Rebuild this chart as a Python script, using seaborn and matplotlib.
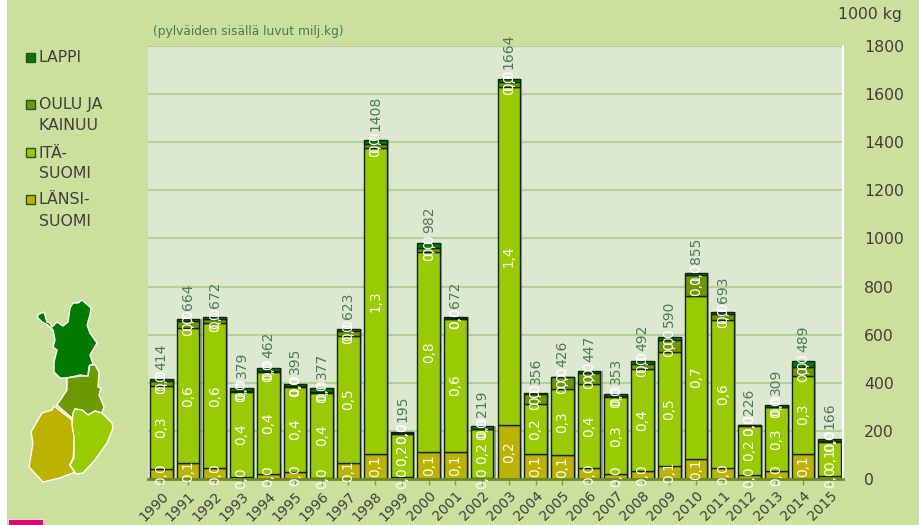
import matplotlib
matplotlib.use('Agg')
import matplotlib.pyplot as plt
import matplotlib.patheffects as pe
from matplotlib.patches import Polygon, Rectangle
import numpy as np
import pandas as pd
import seaborn as sns

years = list(range(1990, 2016))
lansi = [42, 65, 44, 10, 20, 30, 5, 65, 104, 10, 113, 113, 5, 223, 104, 98, 44, 20, 35, 55, 83, 44, 18, 35, 105, 12]
ita = [345, 561, 603, 352, 423, 352, 353, 530, 1271, 178, 830, 553, 201, 1407, 206, 277, 352, 320, 423, 473, 677, 615, 204, 265, 325, 143]
oulu = [19, 30, 19, 3, 8, 6, 3, 22, 17, 2, 19, 2, 3, 22, 42, 47, 45, 3, 22, 48, 89, 28, 2, 1, 37, 2]
lappi = [8, 8, 6, 14, 11, 7, 16, 6, 16, 5, 20, 4, 10, 12, 4, 4, 6, 10, 12, 14, 6, 6, 2, 8, 22, 9]
totals = [414, 664, 672, 379, 462, 395, 377, 623, 1408, 195, 982, 672, 219, 1664, 356, 426, 447, 353, 492, 590, 855, 693, 226, 309, 489, 166]
yticks = list(range(0, 2000, 200))

# map outlines (pixels)
map_lappi = [(37, 317), (39, 314), (44, 312), (47, 322), (50, 323), (52, 327), (57, 322), (63, 326), (68, 322), (70, 308), (73, 303), (78, 303), (82, 300), (91, 308), (90, 315), (87, 325), (90, 333), (97, 343), (90, 355), (93, 364), (89, 366), (88, 376), (80, 375), (67, 378), (60, 378), (54, 372), (54, 362), (57, 350), (53, 347), (55, 340), (53, 330), (48, 325), (42, 322)]
map_oulu = [(67, 378), (80, 376), (88, 376), (90, 365), (95, 365), (99, 372), (98, 387), (101, 388), (99, 395), (104, 407), (102, 413), (95, 411), (88, 415), (82, 410), (75, 409), (72, 418), (57, 405), (67, 390)]
map_ita = [(75, 409), (82, 410), (88, 415), (95, 411), (102, 413), (112, 423), (113, 428), (107, 443), (95, 460), (83, 473), (76, 474), (70, 465), (74, 458), (74, 437), (72, 425), (73, 413)]
map_lansi = [(54, 406), (72, 420), (73, 430), (75, 437), (73, 458), (70, 465), (75, 472), (60, 478), (43, 482), (29, 467), (33, 443), (31, 432), (42, 413), (52, 410)]

col_lappi = '#007A00'
col_oulu = '#6B9900'
col_ita = '#99CC00'
col_lansi = '#BCB200'
bg = '#CBE09C'
text_dark = '#3F3F3F'
text_green = '#4A7A5A'

df = pd.DataFrame({'year': years, 'lansi': lansi, 'ita': ita, 'oulu': oulu, 'lappi': lappi})

sns.set_theme(style='white')
plt.rcParams['font.family'] = ['DejaVu Sans']

fig = plt.figure(figsize=(9.2, 5.25), dpi=100, facecolor=bg)

# overlay in pixels for the map, legend and notes
back = fig.add_axes([0, 0, 1, 1], zorder=0)
back.set_xlim(0, 920)
back.set_ylim(525, 0)
back.axis('off')
back.add_patch(Rectangle((0, 0), 7, 525, fc='white', ec='none'))
back.add_patch(Rectangle((8, 519), 35, 6, fc='#E6007E', ec='white', lw=0.5))
for pts, c in [(map_lappi, col_lappi), (map_oulu, col_oulu), (map_lansi, col_lansi), (map_ita, col_ita)]:
    back.add_patch(Polygon(pts, closed=True, fc=c, ec='white', lw=1))

for y, c in [(57, col_lappi), (104, col_oulu), (152, col_ita), (199, col_lansi)]:
    back.add_patch(Rectangle((26, y - 4.5), 9, 9, fc=c, ec='#2F4F1F', lw=1))
for y, s in [(57, 'LAPPI'), (105, 'OULU JA'), (125, 'KAINUU'), (153, 'ITÄ-'), (173, 'SUOMI'), (200, 'LÄNSI-'), (221, 'SUOMI')]:
    back.text(39, y, s, color=text_dark, fontsize=11.3, va='center', ha='left')
back.text(153, 32, '(pylväiden sisällä luvut milj.kg)', color=text_green, fontsize=8.8, va='center')
back.text(838, 15, '1000 kg', color=text_dark, fontsize=11.3, va='center')

ax = fig.add_axes([148 / 920, (525 - 479) / 525, 695 / 920, 433 / 525], zorder=1)
ax.set_facecolor('#DDE8D0')

bottom = np.zeros(len(df))
for name, c in [('lansi', col_lansi), ('ita', col_ita), ('oulu', col_oulu), ('lappi', col_lappi)]:
    sns.barplot(data=df, x='year', y=name, color=c, saturation=1, width=0.85, bottom=bottom,
                edgecolor='#12240C', linewidth=1, ax=ax)
    labels = [f'{v / 1000:.1f}'.replace('.', ',') for v in df[name]]
    ax.bar_label(ax.containers[-1], labels=labels, label_type='center', rotation=90, color='white', fontsize=9.8)
    bottom = bottom + df[name].values

for p in ax.patches:
    p.set_path_effects([pe.SimplePatchShadow(offset=(1.5, 0), shadow_rgbFace='#555555', alpha=0.5), pe.Normal()])

for i, t in enumerate(totals):
    ax.annotate(str(t), (i, t), xytext=(0, 7), textcoords='offset points', rotation=90,
                ha='center', va='bottom', color=text_green, fontsize=10)

ax.set_xlim(-0.5, 25.5)
ax.set_ylim(0, 1800)
ax.set_xlabel('')
ax.set_ylabel('')
ax.set_axisbelow(True)
ax.yaxis.grid(True, color='#B2D29A', lw=1.5)
ax.xaxis.grid(False)

ax.yaxis.tick_right()
ax.set_yticks(yticks)
ax.tick_params(axis='y', length=6, width=1.2, color='white', labelcolor=text_dark, labelsize=11.3, pad=9, right=True)
ax.tick_params(axis='x', length=4, width=1, color='#7FA03A', labelcolor=text_dark, labelsize=10, pad=3, bottom=True)
plt.setp(ax.get_xticklabels(), rotation=45, ha='right', rotation_mode='anchor')

sns.despine(ax=ax, left=True, top=True, right=False)
ax.spines['right'].set_color('white')
ax.spines['right'].set_linewidth(1.5)
ax.spines['bottom'].set_color('#6B8E23')
ax.spines['bottom'].set_linewidth(2)

fig.savefig('out.png', dpi=100, facecolor=bg)
